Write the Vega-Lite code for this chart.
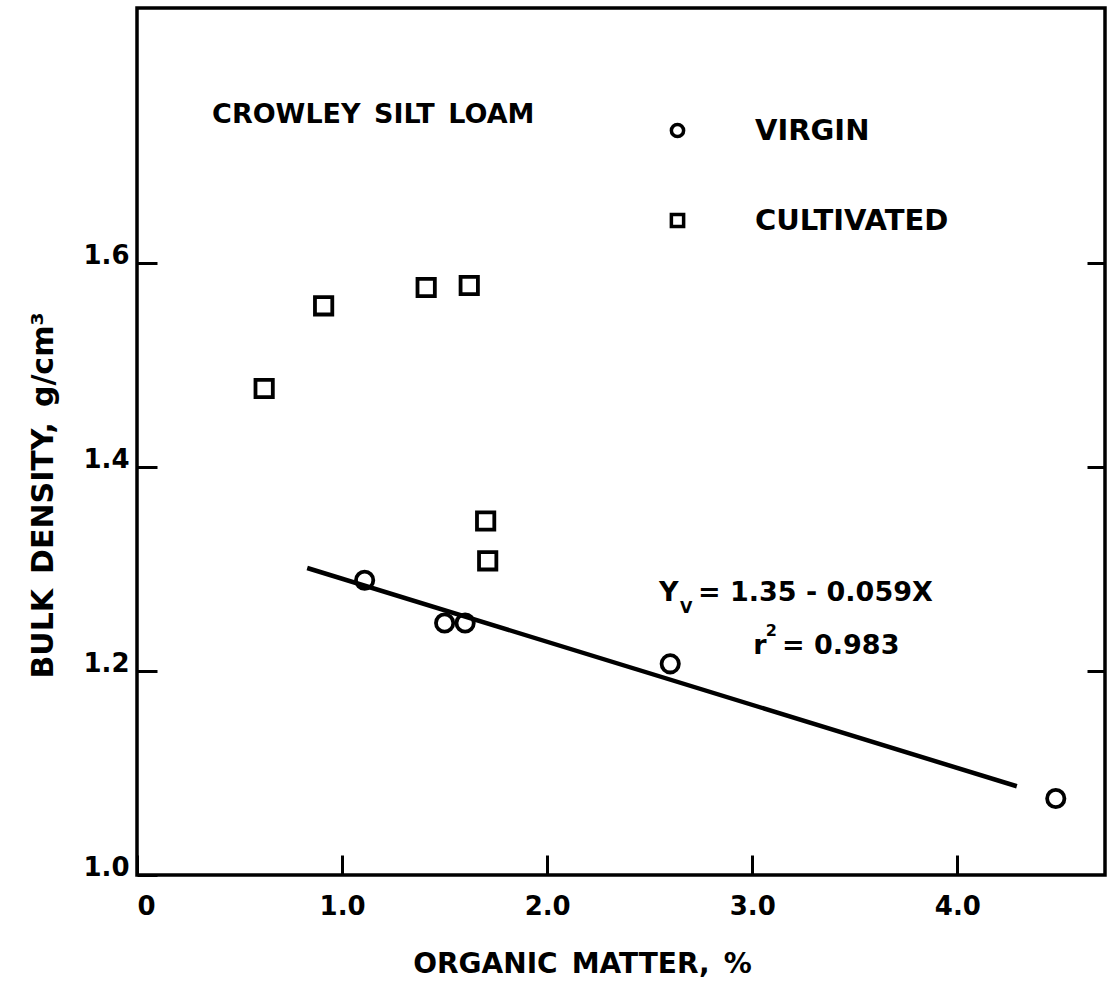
{
  "$schema": "https://vega.github.io/schema/vega-lite/v6.json",
  "width": 968,
  "height": 867,
  "autosize": "none",
  "padding": {"left": 137, "top": 8, "right": 3, "bottom": 115},
  "background": "white",
  "config": {
    "font": "DejaVu Sans",
    "view": {"stroke": "black", "strokeWidth": 3.5},
    "axis": {"grid": false, "domain": false, "labelFont": "DejaVu Sans", "labelFontWeight": "bold", "labelColor": "black", "tickColor": "black", "tickWidth": 3, "titleFont": "DejaVu Sans", "titleFontWeight": "bold", "titleColor": "black"}
  },
  "datasets": {
    "points": [
      {"om": 0.62, "bd": 1.477, "type": "CULTIVATED"},
      {"om": 0.91, "bd": 1.558, "type": "CULTIVATED"},
      {"om": 1.41, "bd": 1.576, "type": "CULTIVATED"},
      {"om": 1.62, "bd": 1.578, "type": "CULTIVATED"},
      {"om": 1.70, "bd": 1.347, "type": "CULTIVATED"},
      {"om": 1.71, "bd": 1.308, "type": "CULTIVATED"},
      {"om": 1.11, "bd": 1.289, "type": "VIRGIN"},
      {"om": 1.50, "bd": 1.247, "type": "VIRGIN"},
      {"om": 1.60, "bd": 1.247, "type": "VIRGIN"},
      {"om": 2.60, "bd": 1.207, "type": "VIRGIN"},
      {"om": 4.48, "bd": 1.075, "type": "VIRGIN"}
    ],
    "fit": [
      {"om": 0.83, "bd": 1.301},
      {"om": 4.29, "bd": 1.087}
    ],
    "bigtext": [
      {"om": 0.366, "bd": 1.737, "label": "CROWLEY\u2002SILT\u2002LOAM"},
      {"om": 2.545, "bd": 1.2686, "label": "Y"},
      {"om": 2.735, "bd": 1.2686, "label": "= 1.35 - 0.059X"},
      {"om": 3.005, "bd": 1.2167, "label": "r"},
      {"om": 3.145, "bd": 1.2167, "label": "= 0.983"}
    ],
    "smalltext": [
      {"om": 2.648, "bd": 1.257, "label": "V"},
      {"om": 3.066, "bd": 1.234, "label": "2"}
    ]
  },
  "layer": [
    {
      "data": {"name": "fit"},
      "mark": {"type": "line", "color": "black", "strokeWidth": 4.5},
      "encoding": {
        "x": {"field": "om", "type": "quantitative", "scale": {"domain": [0, 4.72], "nice": false, "zero": false},
          "axis": {"values": [0, 1, 2, 3, 4], "tickSize": -20, "labelPadding": 38, "labelFontSize": 26, "labelExpr": "datum.value == 0 ? '0' : format(datum.value, '.1f')", "title": "ORGANIC\u2002MATTER,\u2002%", "titleFontSize": 28, "titleX": 445, "titleY": 97, "titleAnchor": null, "titleAlign": "center", "titleBaseline": "alphabetic"}},
        "y": {"field": "bd", "type": "quantitative", "scale": {"domain": [1.0, 1.85], "nice": false, "zero": false},
          "axis": {"values": [1.0, 1.2, 1.4, 1.6], "format": ".1f", "tickSize": -20, "labelPadding": 28, "labelFontSize": 26, "labelBaseline": "alphabetic", "title": "BULK\u2002DENSITY,\u2002g/cm³", "titleFontSize": 30, "titleAngle": 270, "titleX": -85, "titleY": 487, "titleAlign": "center", "titleBaseline": "alphabetic"}}
      }
    },
    {
      "data": {"name": "points"},
      "mark": {"type": "point", "filled": false, "color": "black", "strokeWidth": 3.8, "size": 300, "opacity": 1},
      "encoding": {
        "x": {"field": "om", "type": "quantitative"},
        "y": {"field": "bd", "type": "quantitative", "axis": null},
        "shape": {"field": "type", "type": "nominal", "scale": {"domain": ["VIRGIN", "CULTIVATED"], "range": ["circle", "square"]},
          "legend": {"title": null, "orient": "none", "legendX": 526, "legendY": 108, "symbolSize": 150, "symbolStrokeWidth": 3.5, "symbolStrokeColor": "black", "symbolFillColor": "white", "labelFontSize": 29, "labelFont": "DejaVu Sans", "labelFontWeight": "bold", "labelColor": "black", "labelOffset": 63, "labelLimit": 0, "rowPadding": 60, "padding": 0}}
      }
    },
    {
      "data": {"name": "bigtext"},
      "mark": {"type": "text", "align": "left", "baseline": "alphabetic", "fontSize": 27, "fontWeight": "bold", "color": "black"},
      "encoding": {
        "x": {"field": "om", "type": "quantitative"},
        "y": {"field": "bd", "type": "quantitative", "axis": null},
        "text": {"field": "label"}
      }
    },
    {
      "data": {"name": "smalltext"},
      "mark": {"type": "text", "align": "left", "baseline": "alphabetic", "fontSize": 16, "fontWeight": "bold", "color": "black"},
      "encoding": {
        "x": {"field": "om", "type": "quantitative"},
        "y": {"field": "bd", "type": "quantitative", "axis": null},
        "text": {"field": "label"}
      }
    },
    {
      "data": {"values": [{"bd": 1.2}, {"bd": 1.4}, {"bd": 1.6}]},
      "mark": {"type": "tick", "opacity": 0},
      "encoding": {
        "y": {"field": "bd", "type": "quantitative", "axis": {"orient": "right", "values": [1.2, 1.4, 1.6], "labels": false, "tickSize": -18, "title": null}}
      }
    }
  ],
  "resolve": {"axis": {"y": "independent"}}
}
